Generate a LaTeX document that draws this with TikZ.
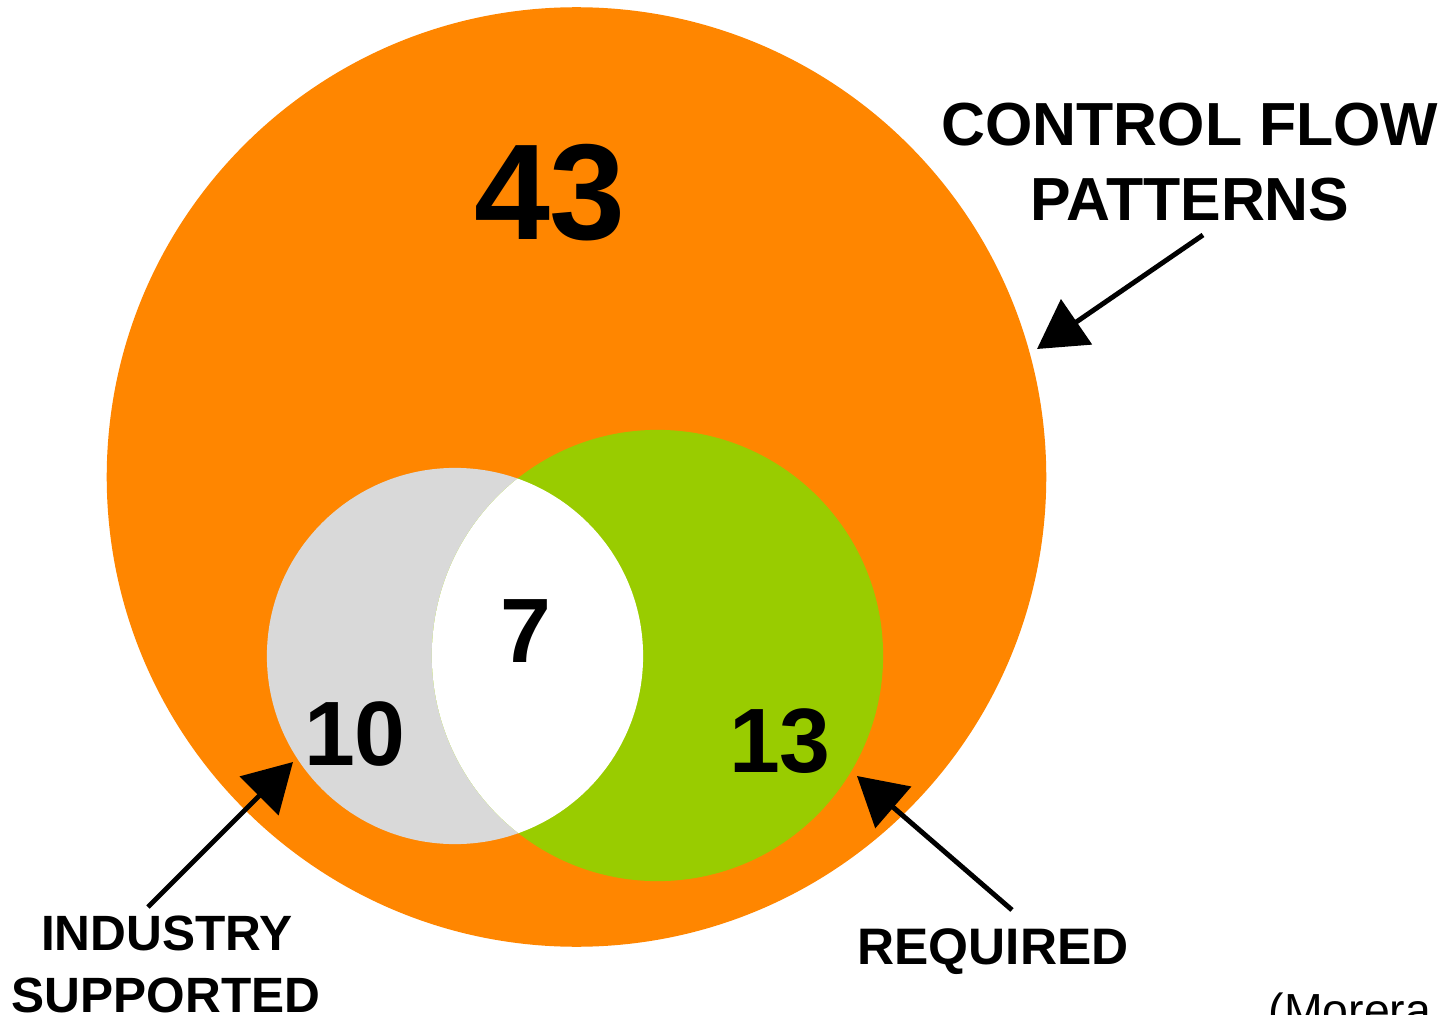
\documentclass[tikz,border=0pt]{standalone}
\usepackage{fontspec}
\setmainfont{Liberation Sans}
\usetikzlibrary{arrows.meta}
\definecolor{vorange}{HTML}{FF8600}
\definecolor{vgreen}{HTML}{99CC00}
\definecolor{vgray}{HTML}{D9D9D9}
\begin{document}
\begin{tikzpicture}[x=0.01cm,y=-0.01cm,
  lbl/.style={font=\bfseries\fontsize{17.3}{20}\selectfont, anchor=base},
  small/.style={font=\bfseries\fontsize{14.1}{17}\selectfont, anchor=base},
  num/.style={font=\bfseries\fontsize{26}{28}\selectfont, anchor=base},
  pointer/.style={line width=1.4pt, -{Triangle[length=4.8mm,width=5.4mm]}}]
\useasboundingbox (0,0) rectangle (1441,1015);
\clip (0,0) rectangle (1441,1015);
\fill[white] (0,0) rectangle (1441,1015);
% circles
\fill[vorange] (576.5,477) circle[radius=4.695cm];
\fill[vgray] (455,656) circle[radius=1.88cm];
\fill[vgreen] (657.5,655.5) circle[radius=2.255cm];
\begin{scope}
  \clip (455,656) circle[radius=1.88cm];
  \fill[white] (657.5,655.5) circle[radius=2.255cm];
\end{scope}
% numbers
\node[num, font=\bfseries\fontsize{38.8}{42}\selectfont] (n43) at (550,239) {43};
\node[num] (n7) at (526,662) {7};
\node[num] (n10) at (355,765) {10};
\node[num] (n13) at (780,772) {13};
% labels
\node[lbl] (cf1) at (1190,145) {CONTROL FLOW};
\node[lbl] (cf2) at (1190,220) {PATTERNS};
\node[small] (is1) at (167,950) {INDUSTRY};
\node[small] (is2) at (166,1012) {SUPPORTED};
\node[small, font=\bfseries\fontsize{14.6}{17}\selectfont] (req) at (993,964) {REQUIRED};
\node[font=\fontsize{13.2}{15}\selectfont, anchor=base west, inner sep=0pt] (cite) at (1268,1026) {(Morera};
% arrows
\coordinate (cfstart) at (1203,235);
\coordinate (cftip) at (1037,349);
\coordinate (isstart) at (148,907);
\coordinate (istip) at (293,762);
\coordinate (rqstart) at (1012,910);
\coordinate (rqtip) at (857,776);
\draw[pointer] (cfstart) -- (cftip);
\draw[pointer] (isstart) -- (istip);
\draw[pointer] (rqstart) -- (rqtip);
\end{tikzpicture}
\end{document}
